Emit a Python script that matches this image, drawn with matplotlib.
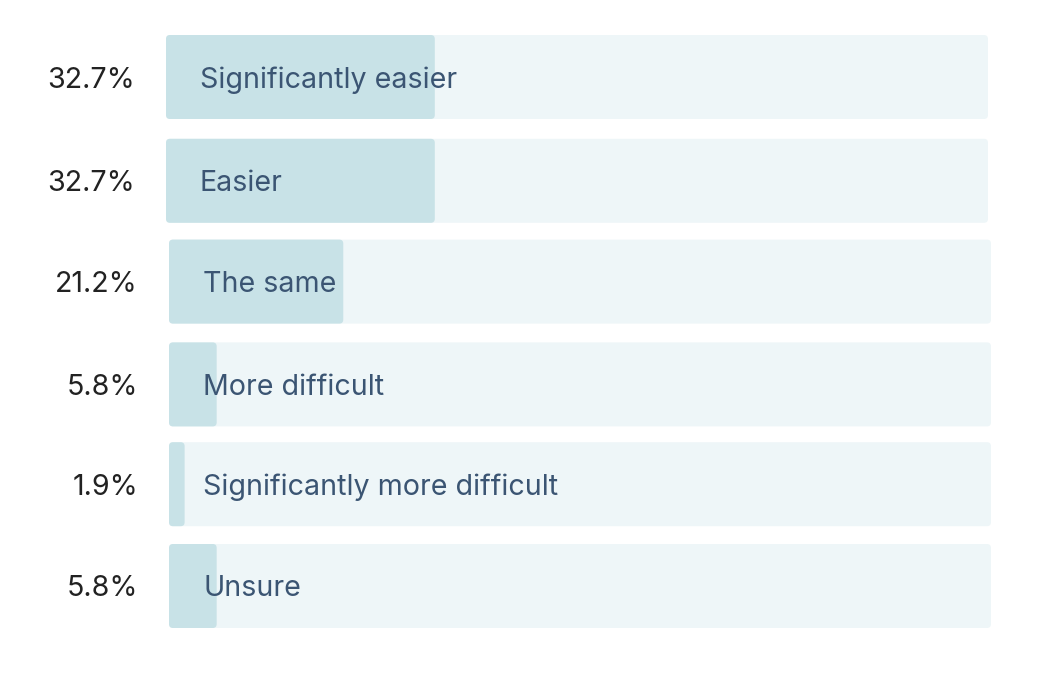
import matplotlib
matplotlib.use("Agg")
import matplotlib.pyplot as plt
from matplotlib.patches import FancyBboxPatch
from matplotlib.transforms import ScaledTranslation

categories = ["Significantly easier", "Easier", "The same", "More difficult",
              "Significantly more difficult", "Unsure"]
values = [32.7, 32.7, 21.2, 5.8, 1.9, 5.8]
pct_labels = ["32.7%", "32.7%", "21.2%", "5.8%", "1.9%", "5.8%"]

# layout (pixel nudges per row, as in the reference)
dx_px = [0, 0, 3, 3, 3, 3]
dy_px = [0, -2, -1, -2, 0, 0]

W, H, DPI = 1046, 677, 100
fig = plt.figure(figsize=(W / DPI, H / DPI), dpi=DPI)
fig.patch.set_facecolor("white")

track_left, track_w = 166, 822
row0, step = 77, 101.8
top = row0 - step / 2
bot = row0 + 5 * step + step / 2
ax = fig.add_axes([track_left / W, 1 - bot / H, track_w / W, (bot - top) / H])
ax.set_xlim(0, 100)
ax.set_ylim(5.5, -0.5)
ax.axis("off")

bar_h = 84 / step
px_x = track_w / 100
r = 4 / px_x
aspect = (4 / step) / r

track_col = "#EEF6F8"
fill_col = "#C8E2E7"
label_col = "#3B5573"
pct_col = "#222222"
font = "Inter"
fs = 20.6

for i, (cat, v, pl) in enumerate(zip(categories, values, pct_labels)):
    off = ScaledTranslation(dx_px[i] / DPI, dy_px[i] / DPI, fig.dpi_scale_trans)
    tr = ax.transData + off
    for width, col in ((100, track_col), (v, fill_col)):
        p = FancyBboxPatch((0, i - bar_h / 2), width, bar_h,
                           boxstyle=f"round,pad=0,rounding_size={r}",
                           mutation_aspect=aspect, facecolor=col,
                           edgecolor="none", transform=tr, clip_on=False)
        ax.add_patch(p)
    ax.text(34 / px_x, i, cat, transform=tr, ha="left", va="center_baseline",
            fontsize=fs, color=label_col, family=font, clip_on=False)
    ax.text(-31 / px_x, i, pl, transform=tr, ha="right", va="center_baseline",
            fontsize=fs, color=pct_col, family=font, clip_on=False)

fig.savefig("out.png", dpi=DPI, facecolor="white")
